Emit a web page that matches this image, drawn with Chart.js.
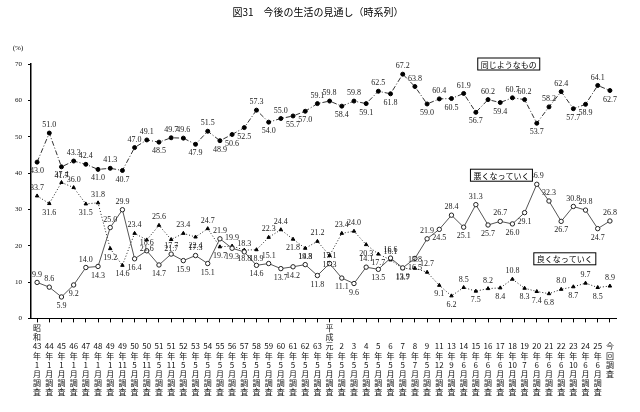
<!DOCTYPE html>
<html>
<head>
<meta charset="utf-8">
<script src="https://cdn.jsdelivr.net/npm/chart.js@4"></script>
<style>
  html, body { margin: 0; padding: 0; background: #fff; }
  #wrap { width: 640px; height: 412px; position: relative; }
</style>
</head>
<body>
<div id="wrap"><canvas id="outlook"></canvas></div>
<script>
// survey waves (x axis)
const surveyYear = ['43','44','45','46','47','48','49','49','50','50','51','51','52','53','54',
    '55','56','57','58','59','60','61','62','63','元','2','3','4','5','6','7','8','9',
    '11','13','14','15','16','17','18','19','20','21','22','23','24','25'];
const surveyMonth = ['1','1','1','1','1','1','1','11','5','11','5','11','5','5','5',
    '5','5','5','5','5','5','5','5','5','5','5','5','5','5','5','5','7','5',
    '12','9','6','6','6','6','10','7','6','6','6','10','6','6'];
const eraStart = { 0: ['昭', '和'], 24: ['平', '成'] };
const latestLabel = ['今', '回', '調', '査'];

// series values (%)
const sameAsNow = [43.0, 51.0, 41.7, 43.3, 42.4, 41.0, 41.3, 40.7, 47.0, 49.1, 48.5, 49.7, 49.6, 47.9, 51.5,
    48.9, 50.6, 52.5, 57.3, 54.0, 55.0, 55.7, 57.0, 59.1, 59.8, 58.4, 59.8, 59.1, 62.5, 61.8, 67.2, 63.8, 59.0,
    60.4, 60.5, 61.9, 56.7, 60.2, 59.4, 60.7, 60.2, 53.7, 58.2, 62.4, 57.7, 58.9, 64.1, 62.7];
const gettingWorse = [9.9, 8.6, 5.9, 9.2, 14.0, 14.3, 25.0, 29.9, 16.4, 18.6, 14.7, 17.7, 15.9, 17.3, 15.1,
    21.9, 19.3, 18.3, 14.6, 15.1, 13.7, 14.2, 14.8, 11.8, 15.1, 11.1, 9.6, 14.1, 13.5, 16.6, 13.9, 16.5, 21.9,
    24.5, 28.4, 25.1, 31.3, 25.7, 26.7, 26.0, 29.1, 36.9, 32.3, 26.7, 30.8, 29.8, 24.7, 26.8];
const gettingBetter = [33.7, 31.6, 37.4, 36.0, 31.5, 31.8, 19.2, 14.6, 23.4, 21.6, 25.6, 21.7, 23.4, 22.4, 24.7,
    19.7, 19.9, 18.8, 18.9, 22.3, 24.4, 21.8, 19.3, 21.2, 17.3, 23.4, 24.0, 20.3, 17.7, 16.1, 13.7, 13.8, 12.7,
    9.1, 6.2, 8.5, 7.5, 8.2, 8.4, 10.8, 8.3, 7.4, 6.8, 8.0, 8.7, 9.7, 8.5, 8.9];

const yTicks = [0, 10, 20, 30, 40, 50, 60, 70];
const seriesNames = ['同じようなもの', '悪くなっていく', '良くなっていく'];

// x labels are stacked vertically, one character per row
const labels = surveyYear.map(function (y, i) {
    const era = eraStart[i] || ['', ''];
    return [era[0], era[1], y, '年', surveyMonth[i], '月', '調', '査'];
});
labels.push(['', ''].concat(latestLabel));

// where the boxed series names sit (category index, value)
const nameSpots = [[38.7, 70], [38.1, 39.4], [43.3, 16.4]];

const numFont = "'Liberation Serif', 'DejaVu Serif', serif";
const jpFont = "'Noto Sans CJK JP', sans-serif";

const valueLabels = {
    id: 'valueLabels',
    afterDatasetsDraw(chart) {
        const ctx = chart.ctx;
        ctx.save();
        ctx.fillStyle = '#222';
        ctx.textAlign = 'center';
        ctx.textBaseline = 'middle';
        ctx.font = '8px ' + numFont;
        chart.data.datasets.forEach(function (ds, di) {
            const meta = chart.getDatasetMeta(di);
            const d = ds.data;
            meta.data.forEach(function (pt, i) {
                const prev = i > 0 ? d[i - 1] : d[i + 1];
                const next = i < d.length - 1 ? d[i + 1] : d[i - 1];
                const up = d[i] >= (prev + next) / 2;
                ctx.fillText(d[i].toFixed(1), pt.x, pt.y + (up ? -8 : 9));
            });
        });

        // boxed series names
        ctx.font = '8px ' + jpFont;
        seriesNames.forEach(function (name, k) {
            const x = chart.scales.x.getPixelForValue(nameSpots[k][0]);
            const y = chart.scales.y.getPixelForValue(nameSpots[k][1]);
            const w = ctx.measureText(name).width + 6;
            ctx.fillStyle = '#fff';
            ctx.fillRect(x - w / 2, y - 6, w, 12);
            ctx.strokeStyle = '#000';
            ctx.lineWidth = 1;
            ctx.strokeRect(x - w / 2, y - 6, w, 12);
            ctx.fillStyle = '#000';
            ctx.fillText(name, x, y + 0.5);
        });

        // title and unit
        ctx.font = '10px ' + jpFont;
        ctx.fillText('図31　今後の生活の見通し（時系列）', 318, 12);
        ctx.font = '7px ' + numFont;
        ctx.fillText('(%)', 18, 48);
        ctx.restore();
    }
};

const ctxOutlook = document.getElementById('outlook').getContext('2d');
const outlookChart = new Chart(ctxOutlook, {
    type: 'line',
    data: {
        labels: labels,
        datasets: [{
            label: seriesNames[0],
            data: sameAsNow,
            borderColor: '#333',
            borderWidth: 1,
            borderDash: [5, 2, 1, 2],
            pointStyle: 'circle',
            pointRadius: 2,
            pointBackgroundColor: '#000',
            pointBorderColor: '#000',
            tension: 0
        }, {
            label: seriesNames[1],
            data: gettingWorse,
            borderColor: '#555',
            borderWidth: 1,
            pointStyle: 'circle',
            pointRadius: 2.2,
            pointBackgroundColor: '#fff',
            pointBorderColor: '#222',
            pointBorderWidth: 1,
            tension: 0
        }, {
            label: seriesNames[2],
            data: gettingBetter,
            borderColor: '#222',
            borderWidth: 1,
            borderDash: [1, 2],
            pointStyle: 'triangle',
            pointRadius: 2,
            pointBackgroundColor: '#000',
            pointBorderColor: '#000',
            tension: 0
        }]
    },
    options: {
        responsive: true,
        maintainAspectRatio: false,
        animation: false,
        layout: { padding: { top: 64, left: 9, right: 24, bottom: 14 } },
        plugins: {
            legend: { display: false },
            tooltip: { enabled: false }
        },
        scales: {
            x: {
                offset: true,
                grid: { display: true, drawOnChartArea: false, tickLength: 4, color: '#000' },
                border: { color: '#000', width: 1 },
                ticks: {
                    autoSkip: false,
                    maxRotation: 0,
                    minRotation: 0,
                    padding: 1,
                    color: '#111',
                    font: { family: jpFont, size: 8, lineHeight: 1.15 }
                }
            },
            y: {
                min: 0,
                max: 70,
                afterBuildTicks: function (axis) {
                    axis.ticks = yTicks.map(function (v) { return { value: v }; });
                },
                grid: { display: true, drawOnChartArea: false, tickLength: 3, color: '#000' },
                border: { color: '#000', width: 1.5 },
                ticks: {
                    padding: 6,
                    color: '#111',
                    font: { family: numFont, size: 7 }
                }
            }
        }
    },
    plugins: [valueLabels]
});
</script>
</body>
</html>
